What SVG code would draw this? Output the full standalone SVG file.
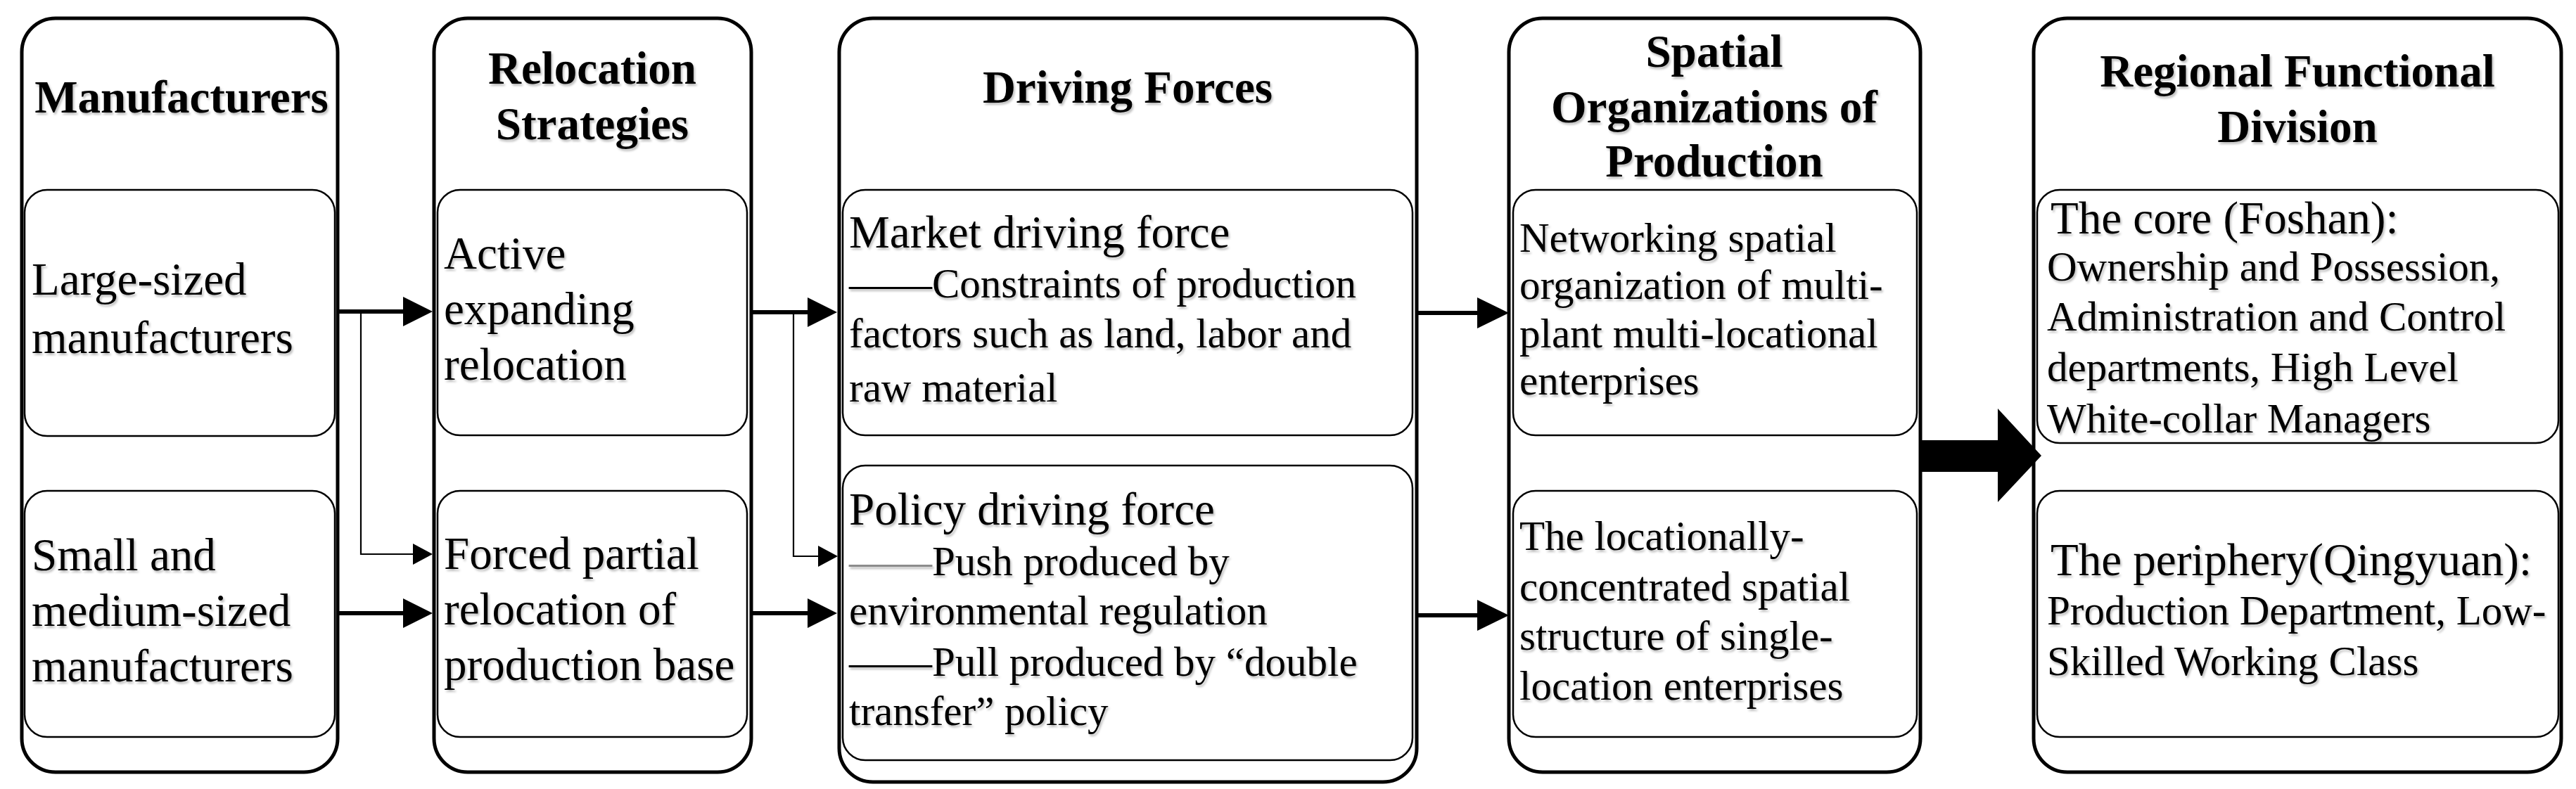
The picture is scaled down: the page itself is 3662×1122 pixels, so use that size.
<svg xmlns="http://www.w3.org/2000/svg" width="3662" height="1122" viewBox="0 0 3662 1122">
<defs>
<filter id="tshadow" x="-5%" y="-20%" width="110%" height="150%">
<feDropShadow dx="2" dy="3" stdDeviation="1.5" flood-color="#000" flood-opacity="0.25"/>
</filter>
<style>
.outer{fill:#fff;stroke:#000;stroke-width:5}
.inner{fill:#fff;stroke:#000;stroke-width:2.5}
text{font-family:"Liberation Serif","Times New Roman",serif;fill:#000;filter:url(#tshadow)}
.title{font-weight:bold;font-size:65px;text-anchor:middle}
.body{font-size:65px}
.sub{font-size:59px}
.thick{stroke:#000;stroke-width:6;fill:none}
.thin{stroke:#000;stroke-width:2.2;fill:none}
.head{fill:#000}
</style>
</defs>
<rect width="3662" height="1122" fill="#fff"/>

<g id="manufacturers">
<rect class="outer" x="31" y="26" width="449" height="1072" rx="48"/>
<text class="title" x="258" y="160">Manufacturers</text>
<g id="large-sized">
<rect class="inner" x="35" y="270" width="441" height="350" rx="32"/>
<text class="body" x="45" y="419">Large-sized</text>
<text class="body" x="45" y="502">manufacturers</text>
</g>
<g id="small-medium">
<rect class="inner" x="35" y="698" width="441" height="350" rx="32"/>
<text class="body" x="45" y="811">Small and</text>
<text class="body" x="45" y="890">medium-sized</text>
<text class="body" x="45" y="969">manufacturers</text>
</g>
</g>

<g id="relocation-strategies">
<rect class="outer" x="617" y="26" width="451" height="1072" rx="48"/>
<text class="title" x="842" y="119">Relocation</text>
<text class="title" x="842" y="198">Strategies</text>
<g id="active-expanding">
<rect class="inner" x="622" y="270" width="440" height="349" rx="32"/>
<text class="body" x="631" y="382">Active</text>
<text class="body" x="631" y="461">expanding</text>
<text class="body" x="631" y="540">relocation</text>
</g>
<g id="forced-partial">
<rect class="inner" x="622" y="698" width="440" height="350" rx="32"/>
<text class="body" x="631" y="809">Forced partial</text>
<text class="body" x="631" y="888">relocation of</text>
<text class="body" x="631" y="967">production base</text>
</g>
</g>

<g id="driving-forces">
<rect class="outer" x="1193" y="26" width="821" height="1086" rx="48"/>
<text class="title" x="1603" y="146">Driving Forces</text>
<g id="market-force">
<rect class="inner" x="1198" y="270" width="810" height="349" rx="32"/>
<text class="body" x="1207" y="352">Market driving force</text>
<text class="sub" x="1207" y="423">——Constraints of production</text>
<text class="sub" x="1207" y="494">factors such as land, labor and</text>
<text class="sub" x="1207" y="571">raw material</text>
</g>
<g id="policy-force">
<rect class="inner" x="1198" y="662" width="810" height="419" rx="32"/>
<text class="body" x="1207" y="746">Policy driving force</text>
<text class="sub" x="1207" y="818"><tspan fill="#8c8c8c">——</tspan>Push produced by</text>
<text class="sub" x="1207" y="888">environmental regulation</text>
<text class="sub" x="1207" y="961">——Pull produced by “double</text>
<text class="sub" x="1207" y="1031">transfer” policy</text>
</g>
</g>

<g id="spatial-organizations">
<rect class="outer" x="2145" y="26" width="585" height="1072" rx="48"/>
<text class="title" x="2437" y="95">Spatial</text>
<text class="title" x="2437" y="174">Organizations of</text>
<text class="title" x="2437" y="251">Production</text>
<g id="networking">
<rect class="inner" x="2151" y="270" width="574" height="349" rx="32"/>
<text class="sub" x="2160" y="358">Networking spatial</text>
<text class="sub" x="2160" y="425">organization of multi-</text>
<text class="sub" x="2160" y="494">plant multi-locational</text>
<text class="sub" x="2160" y="561">enterprises</text>
</g>
<g id="concentrated">
<rect class="inner" x="2151" y="698" width="574" height="350" rx="32"/>
<text class="sub" x="2160" y="782">The locationally-</text>
<text class="sub" x="2160" y="854">concentrated spatial</text>
<text class="sub" x="2160" y="924">structure of single-</text>
<text class="sub" x="2160" y="995">location enterprises</text>
</g>
</g>

<g id="regional-division">
<rect class="outer" x="2891" y="26" width="750" height="1072" rx="48"/>
<text class="title" x="3266" y="123">Regional Functional</text>
<text class="title" x="3266" y="202">Division</text>
<g id="core">
<rect class="inner" x="2896" y="270" width="741" height="360" rx="32"/>
<text class="body" x="2915" y="332">The core (Foshan):</text>
<text class="sub" x="2910" y="399">Ownership and Possession,</text>
<text class="sub" x="2910" y="470">Administration and Control</text>
<text class="sub" x="2910" y="542">departments, High Level</text>
<text class="sub" x="2910" y="615">White-collar Managers</text>
</g>
<g id="periphery">
<rect class="inner" x="2896" y="698" width="741" height="350" rx="32"/>
<text class="body" x="2915" y="818">The periphery(Qingyuan):</text>
<text class="sub" x="2910" y="888">Production Department, Low-</text>
<text class="sub" x="2910" y="960">Skilled Working Class</text>
</g>
</g>

<g id="connectors">
<line class="thick" x1="480" y1="443" x2="576" y2="443"/>
<polygon class="head" points="573,422 615,443 573,464"/>
<polyline class="thin" points="513,443 513,788 590,788"/>
<polygon class="head" points="587,773 615,788 587,803"/>
<line class="thick" x1="480" y1="872" x2="576" y2="872"/>
<polygon class="head" points="573,851 615,872 573,893"/>

<line class="thick" x1="1068" y1="444" x2="1151" y2="444"/>
<polygon class="head" points="1148,423 1190,444 1148,465"/>
<polyline class="thin" points="1128,444 1128,791 1166,791"/>
<polygon class="head" points="1163,776 1191,791 1163,806"/>
<line class="thick" x1="1068" y1="872" x2="1151" y2="872"/>
<polygon class="head" points="1148,851 1190,872 1148,893"/>

<line class="thick" x1="2014" y1="445" x2="2103" y2="445"/>
<polygon class="head" points="2100,423 2145,445 2100,467"/>
<line class="thick" x1="2014" y1="875" x2="2103" y2="875"/>
<polygon class="head" points="2100,853 2145,875 2100,897"/>

<polygon class="head" points="2730,626 2840,626 2840,581 2902,648 2840,714 2840,671 2730,671"/>
</g>
</svg>
